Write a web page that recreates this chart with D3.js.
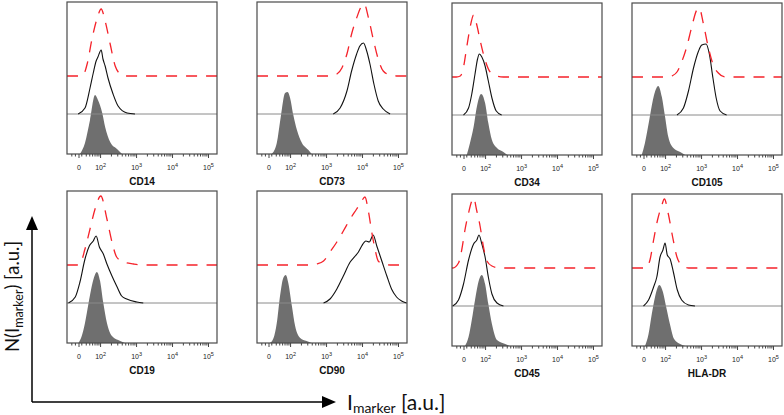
<!DOCTYPE html>
<html lang="en">
<head>
<meta charset="UTF-8">
<script src="https://d3js.org/d3.v7.min.js"></script>
<style>
    body { margin: 0; background: #fff; }
    .tick text { font-family: "Liberation Sans", Arial, sans-serif; font-size: 7px; fill: #222; }
    .tick line { stroke: #444; }
    .panel-title { font-family: "Liberation Sans", Arial, sans-serif; font-size: 10px; font-weight: bold; text-anchor: middle; fill: #111; }
    .big-label { font-family: Lato, "Open Sans", sans-serif; fill: #111; }
</style>
</head>
<body>
<svg id="chart" width="784" height="415"></svg>
<script>
// markers in reading order
const markers = ["CD14", "CD73", "CD34", "CD105", "CD19", "CD90", "CD45", "HLA-DR"];

// histograms: [log10 intensity, events (a.u.)]
// ctrl = grey filled, stain = black line, dash = red dashed
const ctrlCD14 = [[1.44,0],[1.58,11],[1.72,34],[1.86,59],[1.94,54],[2.06,41],[2.14,27],[2.28,12],[2.47,5],[2.61,0]];
const stainCD14 = [[1.39,0],[1.58,6],[1.72,26],[1.81,41],[1.89,53],[1.94,57],[2.03,64],[2.08,55],[2.14,48],[2.22,36],[2.36,20],[2.5,8],[2.75,1],[2.97,0]];
const dashCD14 = [[1.42,0],[1.53,1],[1.64,12],[1.78,38],[1.92,58],[2.03,67],[2.14,55],[2.28,32],[2.42,10],[2.56,2],[2.69,0]];

const ctrlCD73 = [[1.49,0],[1.63,11],[1.74,37],[1.86,61],[1.93,62],[2.0,56],[2.09,39],[2.19,24],[2.33,11],[2.51,4],[2.6,0]];
const stainCD73 = [[3.2,0],[3.39,6],[3.58,23],[3.71,43],[3.85,60],[3.94,68],[4.04,71],[4.13,63],[4.22,50],[4.33,30],[4.45,13],[4.59,5],[4.78,0]];
const dashCD73 = [[3.1,0],[3.25,1],[3.44,8],[3.58,22],[3.71,42],[3.85,58],[3.99,70],[4.06,72],[4.18,58],[4.31,37],[4.45,17],[4.59,5],[4.78,1],[4.96,0]];

const ctrlCD34 = [[1.49,0],[1.58,12],[1.68,28],[1.77,48],[1.89,61],[2.0,52],[2.09,32],[2.19,15],[2.33,7],[2.51,3],[2.62,0]];
const stainCD34 = [[1.4,0],[1.54,7],[1.63,21],[1.72,41],[1.79,56],[1.84,61],[1.91,58],[2.0,49],[2.09,34],[2.19,17],[2.31,4],[2.46,0]];
const dashCD34 = [[1.2,0],[1.31,1],[1.4,10],[1.49,30],[1.58,49],[1.68,62],[1.77,52],[1.86,37],[2.0,17],[2.14,5],[2.33,1],[2.51,0]];

const ctrlCD105 = [[1.35,0],[1.44,12],[1.56,35],[1.68,58],[1.81,69],[1.91,58],[2.0,38],[2.09,18],[2.23,7],[2.42,3],[2.56,0]];
const stainCD105 = [[2.33,0],[2.51,7],[2.65,24],[2.79,47],[2.93,64],[3.02,70],[3.14,71],[3.23,61],[3.33,37],[3.42,17],[3.53,4],[3.71,0]];
const dashCD105 = [[2.1,0],[2.19,1],[2.33,5],[2.46,15],[2.6,30],[2.74,50],[2.88,67],[2.95,69],[3.06,54],[3.2,30],[3.34,12],[3.48,4],[3.67,0]];

const ctrlCD19 = [[1.4,0],[1.49,7],[1.58,20],[1.68,40],[1.81,63],[1.91,71],[2.0,62],[2.09,40],[2.19,20],[2.33,7],[2.56,2],[2.69,0]];
const stainCD19 = [[1.12,0],[1.31,6],[1.44,21],[1.58,44],[1.7,57],[1.81,62],[1.89,67],[1.98,56],[2.09,49],[2.19,39],[2.33,27],[2.46,17],[2.6,7],[2.74,4],[3.02,1],[3.2,0]];
const dashCD19 = [[1.35,0],[1.44,1],[1.58,16],[1.72,36],[1.86,56],[2.02,69],[2.19,46],[2.33,23],[2.46,8],[2.65,3],[2.93,1],[3.2,0]];

const ctrlCD90 = [[1.44,0],[1.54,5],[1.63,20],[1.72,47],[1.81,65],[1.88,68],[1.95,60],[2.05,37],[2.14,17],[2.28,5],[2.46,2],[2.6,0]];
const stainCD90 = [[2.93,0],[3.11,4],[3.3,14],[3.48,27],[3.67,41],[3.81,47],[3.9,51],[3.99,57],[4.11,62],[4.2,61],[4.31,68],[4.41,57],[4.55,42],[4.69,27],[4.82,14],[4.96,6],[5.1,2],[5.24,0]];
const dashCD90 = [[2.6,0],[2.74,1],[2.93,4],[3.11,13],[3.3,23],[3.48,34],[3.67,46],[3.85,56],[3.99,64],[4.08,68],[4.18,53],[4.27,33],[4.36,16],[4.45,4],[4.59,1],[4.78,0]];

const ctrlCD45 = [[1.44,0],[1.54,9],[1.63,26],[1.72,46],[1.83,66],[1.91,71],[2.0,62],[2.09,42],[2.19,22],[2.33,6],[2.56,2],[2.69,0]];
const stainCD45 = [[1.1,0],[1.26,6],[1.4,22],[1.54,46],[1.68,62],[1.77,66],[1.83,71],[1.91,62],[2.0,49],[2.09,29],[2.19,12],[2.33,3],[2.51,0]];
const dashCD45 = [[1.1,0],[1.26,5],[1.35,18],[1.44,38],[1.54,55],[1.63,67],[1.68,70],[1.77,57],[1.86,42],[1.95,22],[2.05,7],[2.19,2],[2.42,0]];

const ctrlHLADR = [[1.44,0],[1.54,12],[1.63,32],[1.72,49],[1.84,61],[1.94,54],[2.03,39],[2.14,21],[2.25,7],[2.42,2],[2.56,0]];
const stainHLADR = [[1.4,0],[1.54,6],[1.68,19],[1.77,29],[1.86,49],[1.94,56],[2.0,63],[2.06,51],[2.14,47],[2.23,34],[2.34,16],[2.46,6],[2.65,1],[2.83,0]];
const dashHLADR = [[1.4,0],[1.49,1],[1.58,8],[1.68,28],[1.79,48],[1.91,63],[1.98,69],[2.09,54],[2.21,31],[2.33,11],[2.46,3],[2.65,0]];

const ctrlSets = [ctrlCD14, ctrlCD73, ctrlCD34, ctrlCD105, ctrlCD19, ctrlCD90, ctrlCD45, ctrlHLADR];
const stainSets = [stainCD14, stainCD73, stainCD34, stainCD105, stainCD19, stainCD90, stainCD45, stainHLADR];
const dashSets = [dashCD14, dashCD73, dashCD34, dashCD105, dashCD19, dashCD90, dashCD45, dashHLADR];

// axis: "0" sits in the linear part of the logicle scale
const majorTicks = [1.4, 2, 3, 4, 5];
const tickBase = ["0", "10", "10", "10", "10"];
const tickExp = ["", "2", "3", "4", "5"];

// layout
const colX = [67, 257, 452, 632];
const rowTop = [[2, 191], [2, 191], [3, 194], [3, 194]];
const pw = 150, ph = 152;
const stainOffset = 40, dashOffset = 78;

const svg = d3.select("#chart");

const x = d3.scaleLinear().domain([1.08, 5.25]).range([0, pw]);
const y = d3.scaleLinear().domain([0, 152]).range([ph, 0]);
const [x0, x1] = x.domain();

// minor ticks (logicle-ish)
const minorTicks = [1.2, 1.3];
for (let k = 3; k <= 9; k++) minorTicks.push(Math.log10(k * 10));
for (let n = 2; n <= 4; n++) {
    for (let k = 2; k <= 9; k++) minorTicks.push(n + Math.log10(k));
}

const area = d3.area()
    .x(d => x(d[0]))
    .y0(y(0))
    .y1(d => y(d[1]))
    .curve(d3.curveMonotoneX);

const lineAt = off => d3.line()
    .x(d => x(d[0]))
    .y(d => y(d[1] + off))
    .curve(d3.curveMonotoneX);

markers.forEach((name, i) => {
    const col = i % 4, row = Math.floor(i / 4);
    const g = svg.append("g")
        .attr("transform", `translate(${colX[col]},${rowTop[col][row]})`);

    g.append("clipPath").attr("id", "clip" + i)
        .append("rect").attr("width", pw).attr("height", ph);
    const inner = g.append("g").attr("clip-path", `url(#clip${i})`);

    // grey filled control
    inner.append("path")
        .datum(ctrlSets[i])
        .attr("d", area)
        .attr("fill", "#6f6f6f");

    // black stained histogram on its own baseline
    inner.append("line")
        .attr("x1", 0).attr("x2", pw)
        .attr("y1", y(stainOffset)).attr("y2", y(stainOffset))
        .attr("stroke", "#8a8a8a")
        .attr("stroke-width", 1);
    inner.append("path")
        .datum(stainSets[i])
        .attr("d", lineAt(stainOffset))
        .attr("fill", "none")
        .attr("stroke", "#111")
        .attr("stroke-width", 1.1);

    // red dashed histogram, full width
    const dashPts = [[x0, 0], ...dashSets[i], [x1, 0]];
    inner.append("path")
        .datum(dashPts)
        .attr("d", lineAt(dashOffset))
        .attr("fill", "none")
        .attr("stroke", "#f5222a")
        .attr("stroke-width", 1.3)
        .attr("stroke-dasharray", "11,9");

    // frame
    g.append("rect")
        .attr("width", pw).attr("height", ph)
        .attr("fill", "none")
        .attr("stroke", "#4a4a4a")
        .attr("stroke-width", 1.2);

    // minor ticks
    g.append("g")
        .attr("transform", `translate(0,${ph})`)
        .call(d3.axisBottom(x).tickValues(minorTicks).tickSize(2.5).tickFormat(""))
        .call(a => a.select(".domain").remove());

    // major ticks with superscript labels
    const ax = g.append("g")
        .attr("transform", `translate(0,${ph})`)
        .attr("color", "#222")
        .call(d3.axisBottom(x).tickValues(majorTicks).tickSize(4))
        .call(a => a.select(".domain").remove());
    ax.selectAll(".tick text").each(function (d, j) {
        const t = d3.select(this).text(null).attr("y", 16).attr("dy", null);
        t.append("tspan").text(tickBase[j]);
        if (tickExp[j]) {
            t.append("tspan").attr("dy", -3.5).attr("font-size", "5.5px").text(tickExp[j]);
        }
    });
    ax.selectAll(".tick line").attr("stroke-width", 1);

    g.append("text")
        .attr("class", "panel-title")
        .attr("x", pw / 2)
        .attr("y", ph + 31)
        .text(name);
});

// big axis arrows
const arrows = svg.append("g").attr("fill", "#000").attr("stroke", "#000");
arrows.append("line").attr("x1", 32).attr("y1", 402).attr("x2", 32).attr("y2", 228).attr("stroke-width", 1.5);
arrows.append("path").attr("d", "M26,230 L38,230 L32,216 Z").attr("stroke", "none");
arrows.append("line").attr("x1", 32).attr("y1", 402).attr("x2", 324).attr("y2", 402).attr("stroke-width", 1.5);
arrows.append("path").attr("d", "M322,396 L322,408 L336,402 Z").attr("stroke", "none");

// axis captions
const xl = svg.append("text").attr("class", "big-label")
    .attr("x", 347).attr("y", 410).attr("font-size", "21px");
xl.append("tspan").text("I");
xl.append("tspan").attr("font-size", "14px").attr("dy", 3).text("marker");
xl.append("tspan").attr("dy", -3).text(" [a.u.]");

const yl = svg.append("text").attr("class", "big-label")
    .attr("transform", "translate(19,352) rotate(-90)")
    .attr("font-size", "18.5px");
yl.append("tspan").text("N(I");
yl.append("tspan").attr("font-size", "12.5px").attr("dy", 3.5).text("marker");
yl.append("tspan").attr("dy", -3.5).text(") [a.u.]");
</script>
</body>
</html>
